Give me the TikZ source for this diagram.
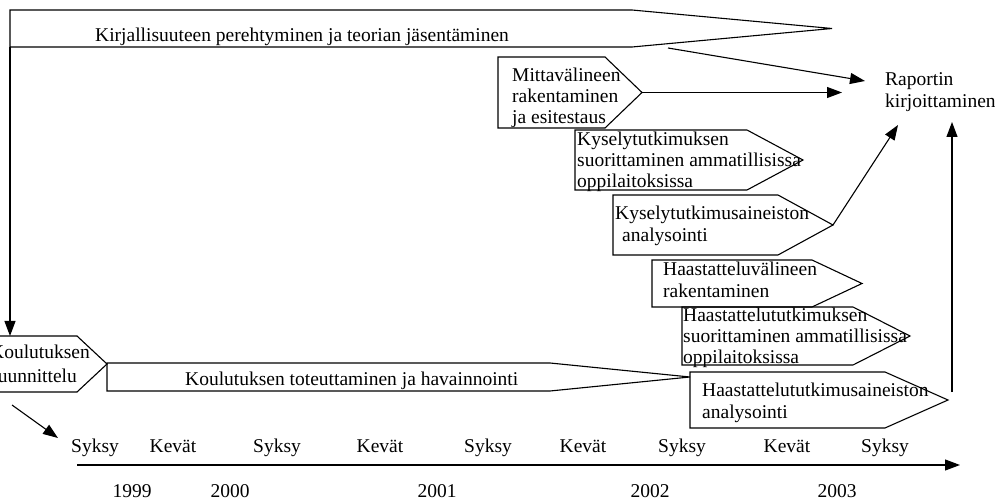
\documentclass[tikz,border=0pt]{standalone}
\usepackage{fontspec}
\setmainfont{Liberation Serif}
\usetikzlibrary{arrows.meta}

% pentagon-shaped phase box: name of tip coordinate, left, top, shoulder x, tip x, bottom
\newcommand\phasebox[6]{%
  \draw[outline] (#2,#3) -- (#4,#3) -- (#5,{(#3+#6)/2}) -- (#4,#6) -- (#2,#6) -- cycle;
  \coordinate (#1) at (#5,{(#3+#6)/2});}

\begin{document}
\begin{tikzpicture}[x=1pt,y=-1pt,
  outline/.style={draw=black,line width=1.1pt,line join=miter},
  lbl/.style={anchor=base west,inner sep=0pt,font=\fontsize{19.5}{21}\selectfont},
  ctr/.style={anchor=base,inner sep=0pt,font=\fontsize{19.5}{21}\selectfont},
  arr/.style={line width=1.1pt,-{Triangle[length=15pt,width=11pt]}}]
\useasboundingbox (0,0) rectangle (995,502);
\clip (0,0) rectangle (995,502);

% literature phase spanning the whole project
\phasebox{lit-tip}{10}{10}{632}{832}{47}
\node[lbl] (lit) at (95,42) {Kirjallisuuteen perehtyminen ja teorian jäsentäminen};
\coordinate (lit-foot) at (10,47);
\coordinate (lit-out) at (668,48);

% training phases
\phasebox{kos-tip}{-20}{336}{77}{107}{392}
\node[lbl] (kos1) at (-10,358) {Koulutuksen};
\node[lbl] (kos2) at (-10,382) {suunnittelu};
\coordinate (kos-top) at (10,336);
\coordinate (kos-out) at (12,405);
\phasebox{tot-tip}{107}{363}{550}{690}{391}
\node[lbl] (tot) at (185,385) {Koulutuksen toteuttaminen ja havainnointi};

% survey phases
\phasebox{mit-tip}{498}{57}{605}{642}{128}
\node[lbl] (mit1) at (512,82) {Mittavälineen};
\node[lbl] (mit2) at (512,103) {rakentaminen};
\node[lbl] (mit3) at (512,124) {ja esitestaus};

\phasebox{kys-tip}{575}{130}{747}{803}{190}
\node[lbl] (kys1) at (577,146) {Kyselytutkimuksen};
\node[lbl] (kys2) at (577,167) {suorittaminen ammatillisissa};
\node[lbl] (kys3) at (577,188) {oppilaitoksissa};

\phasebox{kya-tip}{613}{195}{778}{833}{255}
\node[lbl] (kya1) at (615,220) {Kyselytutkimusaineiston};
\node[lbl] (kya2) at (622,242) {analysointi};

% interview phases
\phasebox{hav-tip}{652}{260}{812}{862}{307}
\node[lbl] (hav1) at (663,276) {Haastatteluvälineen};
\node[lbl] (hav2) at (663,298) {rakentaminen};

\phasebox{has-tip}{682}{307}{853}{910}{365}
\node[lbl] (has1) at (683,321) {Haastattelututkimuksen};
\node[lbl] (has2) at (683,342) {suorittaminen ammatillisissa};
\node[lbl] (has3) at (683,363) {oppilaitoksissa};

\phasebox{haa-tip}{690}{372}{885}{948}{428}
\node[lbl] (haa1) at (702,396) {Haastattelututkimusaineiston};
\node[lbl] (haa2) at (702,418) {analysointi};
\coordinate (haa-up) at (952,392);

% report writing
\node[lbl] (rap1) at (885,86) {Raportin};
\node[lbl] (rap2) at (885,108) {kirjoittaminen};
\coordinate (rap-a) at (865,81);
\coordinate (rap-b) at (842,92.5);
\coordinate (rap-c) at (898,125);
\coordinate (rap-d) at (952,122);

% connectors
\draw[arr] (lit-foot) -- (kos-top);
\draw[arr] (lit-out) -- (rap-a);
\draw[arr] (mit-tip) -- (rap-b);
\draw[arr] (kya-tip) -- (rap-c);
\draw[arr] (haa-up) -- (rap-d);

% time axis
\coordinate (axis-in) at (58,438);
\coordinate (axis-start) at (77,465);
\coordinate (axis-end) at (960,465);
\draw[arr] (kos-out) -- (axis-in);
\draw[arr] (axis-start) -- (axis-end);

\node[ctr] (s1) at (95,452) {Syksy};
\node[ctr] (k1) at (173,452) {Kevät};
\node[ctr] (s2) at (277,452) {Syksy};
\node[ctr] (k2) at (380,452) {Kevät};
\node[ctr] (s3) at (488,452) {Syksy};
\node[ctr] (k3) at (583,452) {Kevät};
\node[ctr] (s4) at (682,452) {Syksy};
\node[ctr] (k4) at (787,452) {Kevät};
\node[ctr] (s5) at (885,452) {Syksy};

\node[ctr] (y1999) at (132,497) {1999};
\node[ctr] (y2000) at (230,497) {2000};
\node[ctr] (y2001) at (437,497) {2001};
\node[ctr] (y2002) at (650,497) {2002};
\node[ctr] (y2003) at (837,497) {2003};
\end{tikzpicture}
\end{document}
